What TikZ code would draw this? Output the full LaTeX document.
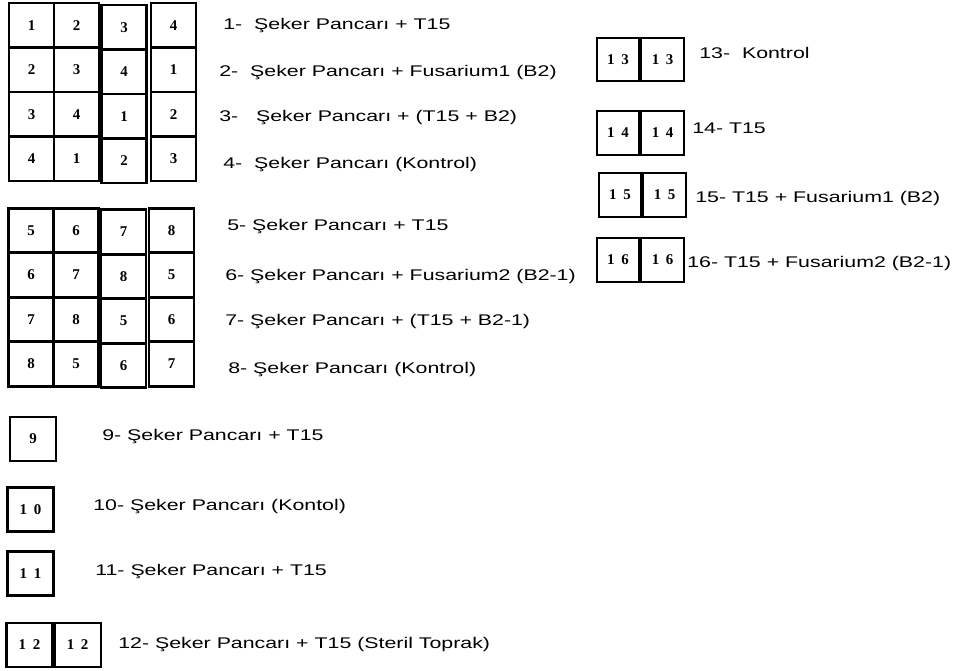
\documentclass[tikz,border=0pt]{standalone}
\usepackage{fontspec}
\newfontfamily\lblfont[FakeStretch=1.38]{Liberation Sans}
\newfontfamily\numfont{Liberation Serif}
\usetikzlibrary{positioning}
\newcommand{\dd}[2]{#1\hspace{0.45em}#2}

\begin{document}
\begin{tikzpicture}[
  x=0.02cm,y=-0.02cm,
  cell/.style={draw,line width=1.5pt,minimum width=0.9cm,minimum height=0.89cm,inner sep=0pt,
    font=\numfont\bfseries\fontsize{8.5}{9}\selectfont},
  pot/.style={cell,line width=1.2pt,minimum width=0.92cm,minimum height=0.88cm},
  pair/.style={pot,minimum width=0.85cm,minimum height=0.87cm},
  lbl/.style={anchor=west,inner sep=0pt,font=\lblfont\fontsize{8.8}{10}\selectfont},
]
\useasboundingbox (0,0) rectangle (954,670);

% first block (1-4)
\foreach \r/\y/\a/\b/\c/\d in {1/25.25/1/2/3/4,2/69.75/2/3/4/1,3/114.25/3/4/1/2,4/158.75/4/1/2/3}{
  \node[cell] (ga-\r-1) at (31.5,\y) {\a};
  \node[cell] (ga-\r-2) at (76.5,\y) {\b};
  \node[cell] (ga-\r-3) at (124,\y+2) {\c};
  \node[cell] (ga-\r-4) at (173.5,\y) {\d};
}

% second block (5-8)
\foreach \r/\y/\a/\b/\c/\d in {1/230.5/5/6/7/8,2/275/6/7/8/5,3/319.5/7/8/5/6,4/364/8/5/6/7}{
  \node[cell] (gb-\r-1) at (31,\y) {\a};
  \node[cell] (gb-\r-2) at (76,\y) {\b};
  \node[cell] (gb-\r-3) at (123.5,\y+1.5) {\c};
  \node[cell] (gb-\r-4) at (171.5,\y) {\d};
}

% single pots (9-12)
\node[pot] (p9) at (33,439) {9};
\node[pot] (p10) at (30.5,509.5) {\dd10};
\node[pot] (p11) at (30.5,573.5) {\dd11};
\node[pot] (p12a) at (29.5,645) {\dd12};
\node[pot,right=0pt of p12a] (p12b) {\dd12};

% pots without beet (13-16)
\node[pair] (p13a) at (618,59.5) {\dd13};
\node[pair,right=0pt of p13a] (p13b) {\dd13};
\node[pair] (p14a) at (618,133) {\dd14};
\node[pair,right=0pt of p14a] (p14b) {\dd14};
\node[pair] (p15a) at (620,195) {\dd15};
\node[pair,right=0pt of p15a] (p15b) {\dd15};
\node[pair] (p16a) at (618,260) {\dd16};
\node[pair,right=0pt of p16a] (p16b) {\dd16};

% legend
\node[lbl] (lab1) at (223,26) {1-\ \ Şeker Pancarı + T15};
\node[lbl] (lab2) at (219,73) {2-\ \ Şeker Pancarı + Fusarium1 (B2)};
\node[lbl] (lab3) at (219,118) {3-\ \ \ Şeker Pancarı + (T15 + B2)};
\node[lbl] (lab4) at (223,165) {4-\ \ Şeker Pancarı (Kontrol)};
\node[lbl] (lab5) at (227,227) {5- Şeker Pancarı + T15};
\node[lbl] (lab6) at (225,277) {6- Şeker Pancarı + Fusarium2 (B2-1)};
\node[lbl] (lab7) at (225,322) {7- Şeker Pancarı + (T15 + B2-1)};
\node[lbl] (lab8) at (228,370) {8- Şeker Pancarı (Kontrol)};
\node[lbl] (lab9) at (102,437) {9- Şeker Pancarı + T15};
\node[lbl] (lab10) at (93,507) {10- Şeker Pancarı (Kontol)};
\node[lbl] (lab11) at (95,572) {11- Şeker Pancarı + T15};
\node[lbl] (lab12) at (118,645) {12- Şeker Pancarı + T15 (Steril Toprak)};
\node[lbl] (lab13) at (699,53) {13-\ \ Kontrol};
\node[lbl] (lab14) at (692,128) {14- T15};
\node[lbl] (lab15) at (695,198) {15- T15 + Fusarium1 (B2)};
\node[lbl] (lab16) at (687,263) {16- T15 + Fusarium2 (B2-1)};
\end{tikzpicture}
\end{document}
